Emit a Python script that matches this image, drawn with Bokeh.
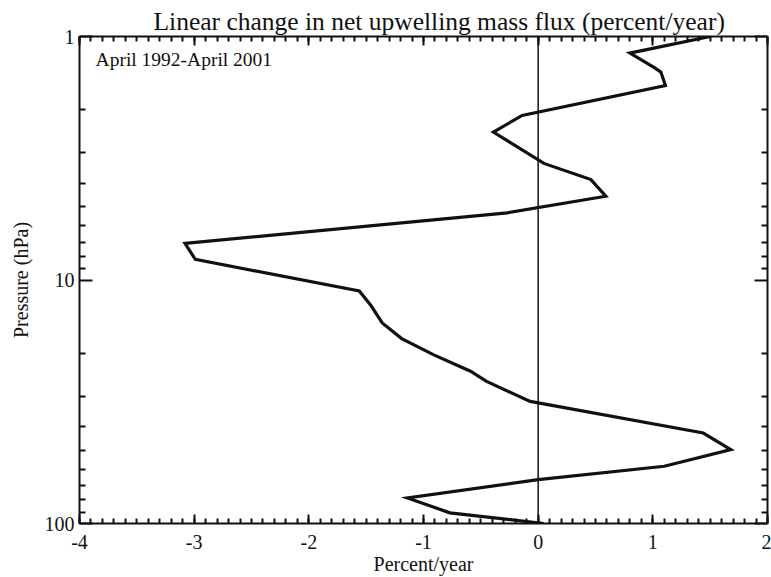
from bokeh.plotting import figure
from bokeh.models import (Range1d, FixedTicker, LinearAxis, LogAxis, Span, Label,
                          NumeralTickFormatter, ColumnDataSource)
from bokeh.embed import file_html
from bokeh.resources import INLINE

# Vertical profile: linear trend of net upwelling mass flux versus pressure
pressure_hpa = [1.00, 1.17, 1.34, 1.40, 1.59, 2.11, 2.47, 3.32, 3.87, 4.53, 5.30,
                7.07, 8.23, 11.1, 12.7, 15.0, 17.4, 20.3, 23.7, 26.1, 31.5,
                42.5, 49.7, 58.2, 66.0, 78.5, 90.4, 100.0]
trend_pct_per_year = [1.50, 0.80, 1.01, 1.07, 1.11, -0.14, -0.39, 0.05, 0.46, 0.59, -0.27,
                      -3.08, -2.99, -1.56, -1.46, -1.36, -1.19, -0.91, -0.59, -0.45, -0.07,
                      1.44, 1.68, 1.10, 0.00, -1.14, -0.77, 0.05]

x_major = [-4, -3, -2, -1, 0, 1, 2]
x_minor = [i / 10 for i in range(-40, 21)]
y_major = [1, 10, 100]
y_minor = [2, 3, 4, 5, 6, 7, 8, 9, 20, 30, 40, 50, 60, 70, 80, 90]

title_text = "Linear change in net upwelling mass flux (percent/year)"
period_text = "April 1992-April 2001"
FONT = "Liberation Serif"
INK = "#111111"

p = figure(width=771, height=577, y_axis_type="log",
           x_range=Range1d(-4, 2), y_range=Range1d(100, 1),
           output_backend="svg", toolbar_location=None,
           min_border_left=79, min_border_right=4,
           min_border_top=36, min_border_bottom=54,
           title=title_text)
p.title.text_font = FONT
p.title.text_font_size = "25.5px"
p.title.text_font_style = "normal"
p.title.align = "left"
p.title.offset = 74
p.title.standoff = 2
p.title.text_color = INK
p.outline_line_color = None
p.xgrid.visible = False
p.ygrid.visible = False
p.background_fill_color = "white"
p.border_fill_color = "white"

src = ColumnDataSource(dict(x=trend_pct_per_year, y=pressure_hpa))
p.line("x", "y", source=src, line_color=INK, line_width=3.2, line_join="miter")

p.add_layout(Span(location=0, dimension="height", line_color=INK, line_width=1.5))

p.add_layout(Label(x=-3.86, y=1.24, text=period_text, text_font=FONT,
                   text_font_size="19.5px", text_baseline="middle", text_color=INK))

def style_ticks(ax, major_len, minor_len, labels):
    ax.axis_line_width = 2
    ax.axis_line_color = INK
    ax.major_tick_in = major_len
    ax.major_tick_out = 0
    ax.minor_tick_in = minor_len
    ax.minor_tick_out = 0
    ax.major_tick_line_width = 2
    ax.minor_tick_line_width = 2
    ax.major_tick_line_color = INK
    ax.minor_tick_line_color = INK
    ax.major_label_text_font = FONT
    if labels:
        ax.major_label_text_font_size = "20px"
        ax.major_label_text_color = INK
    else:
        # tick marks only on the opposite frame edges
        ax.major_label_text_font_size = "1px"
        ax.major_label_text_color = None

def style_x(ax, labels=True):
    ax.ticker = FixedTicker(ticks=x_major, minor_ticks=x_minor)
    ax.formatter = NumeralTickFormatter(format="0")
    style_ticks(ax, 9, 5, labels)
    ax.major_label_standoff = 11

def style_y(ax, labels=True):
    ax.ticker = FixedTicker(ticks=y_major, minor_ticks=y_minor)
    ax.formatter = NumeralTickFormatter(format="0")
    style_ticks(ax, 13, 6, labels)
    ax.major_label_standoff = 5

xb = p.xaxis[0]
style_x(xb)
xb.axis_label = "Percent/year"
xb.axis_label_text_font = FONT
xb.axis_label_text_font_size = "20px"
xb.axis_label_text_font_style = "normal"
xb.axis_label_text_color = INK
xb.axis_label_standoff = 1

yl = p.yaxis[0]
style_y(yl)
yl.axis_label = "Pressure (hPa)"
yl.axis_label_text_font = FONT
yl.axis_label_text_font_size = "20px"
yl.axis_label_text_font_style = "normal"
yl.axis_label_text_color = INK
yl.axis_label_standoff = 10

xt = LinearAxis()
style_x(xt, labels=False)
xt.major_label_standoff = 15
p.add_layout(xt, "above")

yr = LogAxis()
style_y(yr, labels=False)
p.add_layout(yr, "right")

open("out.html", "w").write(file_html(p, INLINE))
